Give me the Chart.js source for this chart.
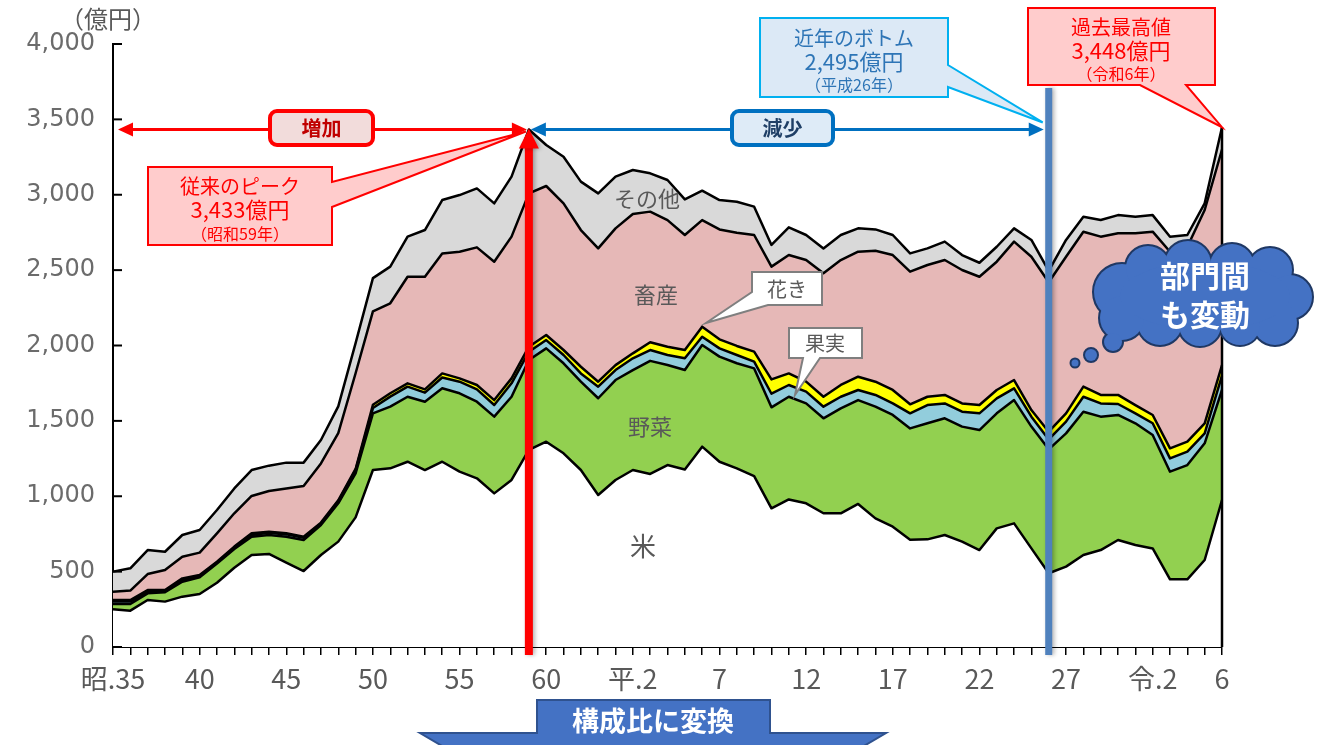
<!DOCTYPE html>
<html lang="ja">
<head>
<meta charset="utf-8">
<title>農業産出額の推移</title>
<script src="https://cdn.jsdelivr.net/npm/chart.js@4.4.1/dist/chart.umd.min.js"></script>
<style>
html,body{margin:0;padding:0;background:#fff;overflow:hidden}
#box{position:relative;width:1320px;height:745px}
</style>
</head>
<body>
<div id="box"><canvas id="chart" width="1320" height="745"></canvas></div>
<script>
// ---- categories (years, Japanese era) ----
const categories = [
 '昭35','昭36','昭37','昭38','昭39','昭40','昭41','昭42','昭43','昭44',
 '昭45','昭46','昭47','昭48','昭49','昭50','昭51','昭52','昭53','昭54',
 '昭55','昭56','昭57','昭58','昭59','昭60','昭61','昭62','昭63','平元',
 '平2','平3','平4','平5','平6','平7','平8','平9','平10','平11',
 '平12','平13','平14','平15','平16','平17','平18','平19','平20','平21',
 '平22','平23','平24','平25','平26','平27','平28','平29','平30','令元',
 '令2','令3','令4','令5','令6'
];
// ---- tick labels shown on the x axis ----
const tickLabels = {
 '昭35':'昭.35','昭40':'40','昭45':'45','昭50':'50','昭55':'55','昭60':'60',
 '平2':'平.2','平7':'7','平12':'12','平17':'17','平22':'22','平27':'27','令2':'令.2','令6':'6'
};
// ---- series values (億円) ----
const rice = [250,241,312,301,334,352,426,526,610,617,559,504,610,699,860,1174,1185,1229,1174,1229,
 1163,1119,1019,1108,1307,1362,1285,1174,1008,1108,1174,1148,1207,1178,1329,1229,1185,1134,920,979,
 953,887,887,949,853,798,712,714,743,699,643,787,820,654,489,533,610,643,710,677,
 654,449,449,577,975];
const vegetables = [35,44,44,62,99,110,127,124,122,126,173,206,199,254,292,376,409,431,453,487,
 520,508,509,552,597,619,597,586,642,663,663,750,664,659,674,697,697,714,670,681,
 663,630,696,689,741,741,738,770,774,763,796,763,818,808,822,884,951,885,829,807,
 752,714,758,774,730];
const fruit = [16,16,11,6,11,9,7,9,11,15,15,15,9,13,22,35,67,67,60,72,
 77,82,77,89,55,55,55,55,77,66,78,72,66,78,55,55,55,45,90,78,
 78,77,77,67,78,77,100,121,99,99,111,99,78,66,66,78,99,88,73,66,
 78,88,89,66,95];
const flowers = [11,11,11,9,11,7,6,7,11,7,7,7,7,7,7,22,22,22,22,27,
 22,29,33,33,33,34,33,44,33,33,33,52,55,55,67,60,60,66,95,77,
 66,66,78,88,88,89,60,55,56,55,55,56,55,44,51,55,67,56,60,55,
 55,67,66,67,70];
const livestock = [55,62,106,133,144,148,188,221,248,270,298,336,393,446,635,619,597,707,747,796,
 840,913,918,940,1017,988,973,907,884,907,924,866,840,763,707,729,751,774,748,785,
 807,819,829,829,869,895,880,874,895,885,851,851,918,1017,992,1039,1028,1050,1072,1139,
 1216,1304,1293,1415,1430];
const others = [133,148,159,121,144,150,155,165,172,168,171,155,155,177,200,221,243,266,310,354,
 376,391,387,398,424,272,309,321,365,343,292,254,266,236,195,195,206,188,144,184,
 166,165,166,155,141,133,121,110,122,99,93,99,88,111,75,111,99,110,121,110,
 110,100,78,44,148];
const seriesNames = ['米','野菜','果実','花き','畜産','その他'];
const seriesColors = ['#ffffff','#92d050','#92cddc','#ffff00','#e6b8b7','#d9d9d9'];
const peakCategory = '昭59', peakValue = 3433;
const bottomCategory = '平26', bottomValue = 2495;
const latestCategory = '令6', latestValue = 3448;

const JP = "'Noto Sans CJK JP', sans-serif";
const seriesData = [rice, vegetables, fruit, flowers, livestock, others];

function rrect(ctx,x,y,w,h,r){ctx.beginPath();ctx.moveTo(x+r,y);ctx.arcTo(x+w,y,x+w,y+h,r);ctx.arcTo(x+w,y+h,x,y+h,r);ctx.arcTo(x,y+h,x,y,r);ctx.arcTo(x,y,x+w,y,r);ctx.closePath();}
function txt(ctx,s,x,y,font,color){ctx.font=font;ctx.fillStyle=color;ctx.textAlign='center';ctx.textBaseline='middle';ctx.fillText(s,x,y);}
function poly(ctx,pts,fill,stroke,lw){ctx.beginPath();pts.forEach((p,i)=>i?ctx.lineTo(p[0],p[1]):ctx.moveTo(p[0],p[1]));ctx.closePath();ctx.fillStyle=fill;ctx.fill();if(stroke){ctx.strokeStyle=stroke;ctx.lineWidth=lw;ctx.lineJoin='miter';ctx.stroke();}}
function head(ctx,x,y,dir,len,half,color){ctx.beginPath();ctx.moveTo(x,y);ctx.lineTo(x-dir*len,y-half);ctx.lineTo(x-dir*len,y+half);ctx.closePath();ctx.fillStyle=color;ctx.fill();}

const overlay = {
 id:'overlay',
 afterDraw(chart){
  const ctx = chart.ctx, xs = chart.scales.x, ys = chart.scales.y;
  ctx.save();
  // inward y ticks
  ctx.strokeStyle='#000';ctx.lineWidth=2;
  ys.ticks.forEach(t=>{const y=ys.getPixelForValue(t.value);ctx.beginPath();ctx.moveTo(xs.left,y);ctx.lineTo(xs.left+9,y);ctx.stroke();});
  // right edge of the stacked area
  const li = categories.indexOf(latestCategory);
  const lx = xs.getPixelForValue(li);
  ctx.lineWidth=2.5;ctx.beginPath();ctx.moveTo(lx,ys.getPixelForValue(latestValue));ctx.lineTo(lx,ys.bottom);ctx.stroke();

  // in-chart series labels
  txt(ctx,'その他',647,199,'22px '+JP,'#595959');
  txt(ctx,'畜産',656,295,'22px '+JP,'#595959');
  txt(ctx,'野菜',650,427,'22px '+JP,'#595959');
  txt(ctx,'米',643,546,'26px '+JP,'#595959');

  const px = xs.getPixelForValue(categories.indexOf(peakCategory));
  const py = ys.getPixelForValue(peakValue);
  const bx = xs.getPixelForValue(categories.indexOf(bottomCategory));
  const ly = ys.getPixelForValue(latestValue);

  // vertical markers
  ctx.shadowColor='rgba(0,0,0,0.3)';ctx.shadowBlur=4;ctx.shadowOffsetX=2;
  ctx.fillStyle='#ff0000';ctx.fillRect(px-4,py+14,8,655-(py+14));
  ctx.beginPath();ctx.moveTo(px,py-1);ctx.lineTo(px-10,py+19);ctx.lineTo(px+10,py+19);ctx.closePath();ctx.fill();
  ctx.fillStyle='#4f81bd';ctx.fillRect(bx-3.5,88,7,655-88);
  ctx.shadowColor='transparent';ctx.shadowBlur=0;ctx.shadowOffsetX=0;

  // red arrow (増加)
  const ay = py;
  ctx.strokeStyle='#ff0000';ctx.lineWidth=3;ctx.beginPath();ctx.moveTo(130,ay);ctx.lineTo(px-14,ay);ctx.stroke();
  head(ctx,118,ay,-1,15,7,'#ff0000');head(ctx,px-2,ay,1,15,7,'#ff0000');
  rrect(ctx,270,111,103,34,7);ctx.fillStyle='#f2dcdb';ctx.fill();ctx.strokeStyle='#ff0000';ctx.lineWidth=4;ctx.stroke();
  txt(ctx,'増加',321.5,128.5,'bold 20px '+JP,'#c00000');
  // blue arrow (減少)
  ctx.strokeStyle='#0070c0';ctx.lineWidth=3;ctx.beginPath();ctx.moveTo(px+14,ay);ctx.lineTo(bx-18,ay);ctx.stroke();
  head(ctx,px+2,ay,-1,15,7,'#0070c0');head(ctx,bx-5,ay,1,15,7,'#0070c0');
  rrect(ctx,732,111,101,34,7);ctx.fillStyle='#deebf7';ctx.fill();ctx.strokeStyle='#0070c0';ctx.lineWidth=4;ctx.stroke();
  txt(ctx,'減少',782.5,128.5,'bold 20px '+JP,'#1f3f66');

  // callout: previous peak
  poly(ctx,[[148,167],[332,167],[332,182],[px-3,py+2],[332,207],[332,245],[148,245]],'#ffcccc','#ff0000',2);
  txt(ctx,'従来のピーク',240,186,'20px '+JP,'#ff0000');
  txt(ctx,'3,433億円',240,210,'22px '+JP,'#ff0000');
  txt(ctx,'（昭和59年）',240,234,'16px '+JP,'#ff0000');
  // callout: recent bottom
  poly(ctx,[[760,18],[948,18],[948,65],[bx-6,py-7],[948,87],[948,97],[760,97]],'#dce9f6','#00b0f0',2);
  txt(ctx,'近年のボトム',854,38,'20px '+JP,'#2e75b6');
  txt(ctx,'2,495億円',854,62,'22px '+JP,'#2e75b6');
  txt(ctx,'（平成26年）',854,85,'16px '+JP,'#2e75b6');
  // callout: record high
  poly(ctx,[[1028,8],[1215,8],[1215,85],[1186,85],[lx,ly],[1140,85],[1028,85]],'#ffcccc','#ff0000',2);
  txt(ctx,'過去最高値',1121,27,'20px '+JP,'#ff0000');
  txt(ctx,'3,448億円',1121,51,'22px '+JP,'#ff0000');
  txt(ctx,'（令和6年）',1121,74,'16px '+JP,'#ff0000');

  // small labels 花き / 果実
  poly(ctx,[[752,272],[822,272],[822,305],[768,305],[706,323],[752,292]],'#ffffff','#7f7f7f',2);
  txt(ctx,'花き',787,289,'20px '+JP,'#595959');
  poly(ctx,[[789,328],[862,328],[862,358],[820,358],[795,395],[803,358],[789,358]],'#ffffff','#7f7f7f',2);
  txt(ctx,'果実',825,343,'20px '+JP,'#595959');

  // thought cloud
  const lobes=[[1122,292,28],[1148,268,22],[1188,264,23],[1232,266,22],[1270,270,22],[1290,297,22],[1275,323,22],[1240,325,20],[1200,325,21],[1160,323,22],[1122,318,22]];
  const bubbles=[[1113,342,9],[1091,355,6],[1075,363,3.5]];
  ctx.strokeStyle='#1f3864';ctx.lineWidth=4;
  lobes.concat(bubbles).forEach(c=>{ctx.beginPath();ctx.arc(c[0],c[1],c[2],0,Math.PI*2);ctx.stroke();});
  ctx.fillStyle='#4472c4';
  lobes.concat(bubbles).forEach(c=>{ctx.beginPath();ctx.arc(c[0],c[1],c[2],0,Math.PI*2);ctx.fill();});
  ctx.beginPath();ctx.ellipse(1205,296,85,34,0,0,Math.PI*2);ctx.fill();
  txt(ctx,'部門間',1205,276,'bold 30px '+JP,'#ffffff');
  txt(ctx,'も変動',1205,315,'bold 30px '+JP,'#ffffff');

  // (億円)
  txt(ctx,'（億円）',108,19,'24px '+JP,'#595959');

  // bottom arrow
  poly(ctx,[[537,700],[770,700],[770,733],[886,733],[653,870],[420,733],[537,733]],'#4472c4','#2f528f',2);
  txt(ctx,'構成比に変換',653,721,'bold 27px '+JP,'#ffffff');
  ctx.restore();
 }
};

const datasets = seriesNames.map((name,i)=>({
 label:name, data:seriesData[i], backgroundColor:seriesColors[i], borderColor:'#000', borderWidth:2.5,
 fill: i===0 ? 'origin' : '-1', pointRadius:0, pointHoverRadius:0, tension:0, borderJoinStyle:'round'
}));

new Chart(document.getElementById('chart'),{
 type:'line',
 data:{labels:categories,datasets},
 options:{
  responsive:false, animation:false, devicePixelRatio:1,
  layout:{padding:{top:44,right:98,bottom:0,left:0}},
  plugins:{legend:{display:false},tooltip:{enabled:false}},
  scales:{
   x:{type:'category',offset:false,stacked:true,
    grid:{drawOnChartArea:false,drawTicks:true,tickLength:8,color:'#000',lineWidth:1.5},
    border:{display:true,color:'#000',width:2},
    ticks:{autoSkip:false,maxRotation:0,minRotation:0,padding:8,color:'#595959',font:{family:JP,size:27},
     callback:(v,i)=>tickLabels[categories[i]]||''},
    afterFit:s=>{s.height=98;}
   },
   y:{stacked:true,min:0,max:4000,
    ticks:{stepSize:500,padding:18,color:'#6b6b6b',font:{family:"'DejaVu Sans'",size:24},callback:v=>v.toLocaleString('en-US')},
    grid:{display:false,drawTicks:false},
    border:{display:true,color:'#000',width:2},
    afterFit:s=>{s.width=113;}
   }
  }
 },
 plugins:[overlay]
});
</script>
</body>
</html>
